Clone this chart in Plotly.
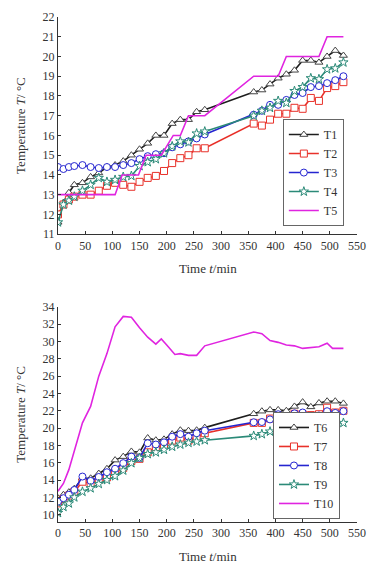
import plotly.graph_objects as go

# ---------------- data ----------------
time_min = [0, 10, 20, 30, 45, 60, 75, 90, 105, 120, 135, 150, 165, 180, 195, 210,
            225, 240, 255, 270, 360, 375, 390, 405, 420, 435, 450, 465, 480, 495, 510, 525]

T1 = [11.6, 12.6, 13.1, 13.5, 13.6, 13.9, 14.1, 14.4, 14.5, 14.7, 15.0, 15.3, 15.6, 16.0, 16.0, 16.6,
      16.8, 16.8, 17.2, 17.3, 18.2, 18.3, 18.6, 18.9, 19.1, 19.3, 19.8, 19.8, 19.7, 20.0, 20.3, 20.05]
T2 = [12.0, 12.5, 12.75, 12.9, 13.0, 13.0, 13.2, 13.45, 13.6, 13.5, 13.4, 13.65, 13.85, 13.95, 14.2, 14.6,
      14.85, 15.0, 15.35, 15.35, 16.6, 16.5, 16.8, 17.1, 17.1, 17.4, 17.35, 17.9, 17.75, 18.4, 18.5, 18.7]
T3 = [14.4, 14.3, 14.4, 14.45, 14.5, 14.4, 14.35, 14.4, 14.4, 14.5, 14.6, 14.8, 14.95, 15.05, 15.1, 15.4,
      15.55, 15.7, 15.85, 16.05, 17.05, 17.25, 17.55, 17.55, 17.8, 18.05, 18.15, 18.45, 18.5, 18.65, 18.8, 19.0]
T4 = [11.6, 12.5, 12.7, 12.9, 13.2, 13.5, 13.85, 13.65, 13.75, 13.9, 13.95, 14.45, 14.65, 14.8, 15.1, 15.45,
      15.7, 15.65, 16.1, 16.2, 17.0, 17.25, 17.4, 17.75, 17.65, 18.25, 18.45, 18.9, 18.85, 19.35, 19.4, 19.7]

t5_time = [0, 105, 118, 148, 162, 190, 212, 225, 240, 270, 360, 405, 420, 480, 495, 525]
T5 = [13, 13, 14, 14, 15, 15, 16, 16, 17, 17, 19, 19, 20, 20, 21, 21]

T6 = [11.9, 12.3, 12.6, 13.0, 14.2, 14.2, 14.75, 15.3, 16.3, 16.7, 17.3, 17.2, 18.85, 18.6, 18.7, 19.3,
      19.75, 19.7, 19.75, 20.05, 21.65, 21.95, 22.1, 22.1, 22.0, 22.5, 23.0, 22.45, 22.9, 23.1, 23.1, 22.85]
T7 = [11.3, 11.8, 12.2, 12.65, 13.8, 13.6, 14.0, 14.3, 14.95, 15.4, 16.2, 16.45, 17.2, 17.8, 18.0, 18.55,
      18.9, 18.55, 18.9, 19.4, 20.6, 20.6, 21.1, 21.4, 21.2, 21.65, 21.6, 21.5, 21.6, 22.35, 21.8, 22.0]
T8 = [11.5, 11.9, 12.3, 12.85, 14.4, 13.9, 14.35, 14.9, 15.3, 15.95, 16.7, 16.55, 18.25, 18.1, 18.35, 19.0,
      19.3, 19.0, 19.4, 19.7, 20.67, 20.7, 21.0, 21.6, 21.2, 21.7, 21.8, 21.4, 21.45, 21.95, 21.75, 21.95]
T9 = [10.2, 10.9, 11.3, 12.0, 12.65, 13.05, 13.55, 14.0, 14.45, 15.1, 15.95, 16.55, 17.0, 17.2, 17.5, 17.85,
      18.1, 18.3, 18.45, 18.6, 19.1, 19.3, 19.6, 19.85, 20.05, 20.15, 20.2, 20.35, 20.35, 20.5, 20.6, 20.6]

t10_time = [0, 10, 20, 30, 45, 60, 75, 90, 105, 120, 135, 150, 165, 180, 190, 200, 215, 225, 240, 255,
            270, 360, 375, 390, 405, 420, 435, 450, 465, 480, 495, 505, 525]
T10 = [12.7, 13.6, 15.2, 17.3, 20.6, 22.5, 26.0, 28.6, 31.7, 32.9, 32.8, 31.6, 30.5, 29.7, 30.3, 29.6, 28.5,
       28.6, 28.4, 28.4, 29.5, 31.1, 30.9, 30.1, 29.9, 29.6, 29.5, 29.2, 29.3, 29.4, 29.8, 29.2, 29.2]

top_y_ticks = list(range(11, 23))
bottom_y_ticks = list(range(10, 35, 2))
x_ticks = list(range(0, 551, 50))

# ---------------- styles ----------------
BLACK = "#1e1e1e"
RED = "#e8312a"
BLUE = "#2525d0"
TEAL = "#2b8a78"
MAGENTA = "#e024e0"
FONT = "Liberation Serif, Times New Roman, serif"

fig = go.Figure()

def add(x, y, name, color, symbol, xa, ya, legendgroup):
    mode = "lines+markers" if symbol else "lines"
    fig.add_trace(go.Scatter(
        x=x, y=y, name=name, mode=mode, xaxis=xa, yaxis=ya, legend=legendgroup,
        line=dict(color=color, width=1.6),
        marker=dict(symbol=symbol or "circle", size=7, color="white",
                    line=dict(color=color if color != BLACK else "#444", width=1)),
    ))

add(time_min, T1, "T1", BLACK, "triangle-up", "x", "y", "legend")
add(time_min, T2, "T2", RED, "square", "x", "y", "legend")
add(time_min, T3, "T3", BLUE, "circle", "x", "y", "legend")
add(time_min, T4, "T4", TEAL, "star", "x", "y", "legend")
add(t5_time, T5, "T5", MAGENTA, None, "x", "y", "legend")

add(time_min, T6, "T6", BLACK, "triangle-up", "x2", "y2", "legend2")
add(time_min, T7, "T7", RED, "square", "x2", "y2", "legend2")
add(time_min, T8, "T8", BLUE, "circle", "x2", "y2", "legend2")
add(time_min, T9, "T9", TEAL, "star", "x2", "y2", "legend2")
add(t10_time, T10, "T10", MAGENTA, None, "x2", "y2", "legend2")

axis_common = dict(
    showgrid=False, zeroline=False, showline=True, linecolor="#333", linewidth=1,
    ticks="inside", ticklen=3, tickcolor="#333", mirror=False,
    tickfont=dict(family=FONT, size=12, color="#333"),
)
ytitle = dict(text="Temperature <i>T</i>/ °C", font=dict(family=FONT, size=13, color="#333"), standoff=14)

legend_common = dict(
    bgcolor="white", bordercolor="#666", borderwidth=1,
    font=dict(family=FONT, size=12, color="#333"),
    tracegroupgap=0, itemwidth=30, xanchor="left", yanchor="bottom",
)

fig.update_layout(
    width=377, height=567,
    margin=dict(l=58, r=20, t=10, b=45),
    paper_bgcolor="white", plot_bgcolor="white",
    showlegend=True,
    xaxis=dict(domain=[0, 1], anchor="y", range=[0, 550], tickvals=x_ticks, **axis_common),
    yaxis=dict(domain=[0.570, 1], anchor="x", range=[11, 22], tickvals=top_y_ticks, title=ytitle, **axis_common),
    xaxis2=dict(domain=[0, 1], anchor="y2", range=[0, 550], tickvals=x_ticks, **axis_common),
    yaxis2=dict(domain=[0, 0.426], anchor="x2", range=[9.15, 34], tickvals=bottom_y_ticks, title=ytitle, **axis_common),
    legend=dict(x=0.752, y=0.586, **legend_common),
    legend2=dict(x=0.719, y=0.006, **legend_common),
)

for ypos in (0.502, -0.068):
    fig.add_annotation(text="Time <i>t</i>/min", xref="paper", yref="paper", x=0.5, y=ypos,
                       xanchor="center", yanchor="middle", showarrow=False,
                       font=dict(family=FONT, size=13, color="#333"))

fig.write_html("out.html", config={"displayModeBar": False},
               post_script="document.body.style.margin='0';")
